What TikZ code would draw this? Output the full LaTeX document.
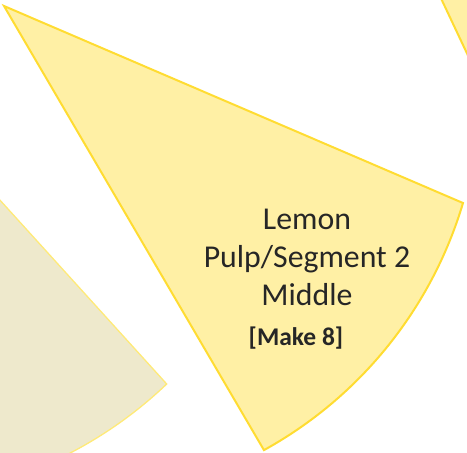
\documentclass[tikz,border=0pt]{standalone}
\usepackage{fontspec}
\setmainfont{Carlito}
\usepackage{tikz}
\usetikzlibrary{positioning}
\definecolor{pulp}{RGB}{255,240,165}
\definecolor{rind}{RGB}{255,220,50}
\definecolor{pith}{RGB}{238,233,204}
\definecolor{pithline}{RGB}{255,234,120}
\definecolor{ink}{RGB}{38,38,38}
\tikzset{segment/.style={fill=pulp, draw=rind, line width=2pt, line join=miter},
	otherseg/.style={fill=pith, draw=pithline, line width=1.3pt}}

\begin{document}
\begin{tikzpicture}[x=1pt, y=-1pt]
		\useasboundingbox (0,0) rectangle (467,453);
		\clip (0,0) rectangle (467,453);
		\draw[otherseg](-60,134) -- (166.7,384) arc[start angle=46.3, end angle=75, radius=419] -- (-60,500) -- cycle;
		\draw[segment](430,-25) -- (480,81) -- (480,-25) -- cycle;
		\coordinate(apex) at (4,6);
		\coordinate(tip) at (463,203);
		\draw[segment](apex) -- (tip) arc[start angle=16.6, end angle=61.1, radius=419] -- cycle;
		\node(label)[align=center, inner sep=0pt, text=ink, font=\fontsize{31.8}{38}\selectfont] at (307,257.5) {Lemon\\Pulp/Segment 2\\Middle};
		\node(count)[inner sep=0pt, text=ink, font=\fontsize{25.5}{30}\selectfont\bfseries] at (296,338) {[Make 8]};
	\end{tikzpicture}
\end{document}
